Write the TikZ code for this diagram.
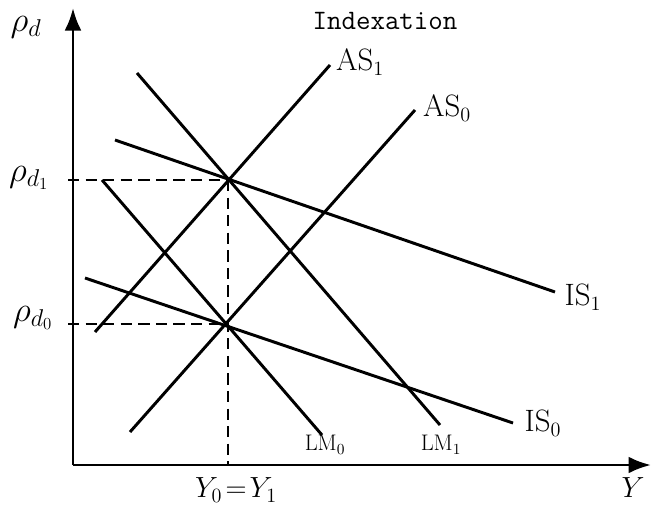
\documentclass[tikz,border=0pt]{standalone}
\usepackage{amssymb}
\usepackage{tikz}
\usetikzlibrary{arrows.meta}

\begin{document}
\begin{tikzpicture}[x=0.025cm,y=-0.025cm]
\tikzset{c/.style={line width=2.1pt},
  dsh/.style={line width=1.7pt,dash pattern=on 8pt off 4.5pt},
  lbl/.style={font=\fontsize{22}{26}\selectfont,inner sep=0pt}}
\useasboundingbox (0,0) rectangle (652,507);

% axes
\path (73,465) coordinate (o);
\path (73,8) coordinate (ytop);
\path (651,465) coordinate (xend);
\draw[c,-{Latex[length=16pt,width=12pt]}] (o) -- (ytop);
\draw[c,-{Latex[length=16pt,width=12pt]}] (o) -- (xend);

% equilibria
\path (228,180) coordinate (e1);
\path (227,324) coordinate (e0);
\path (68,180) coordinate (p1);
\path (68,324) coordinate (p0);
\path (228,465) coordinate (y1);

\draw[dsh] (p1) -- (e1);
\draw[dsh] (p0) -- (e0);
\draw[dsh] (e1) -- (y1);

% curves
\path (95,332) coordinate (as1a);
\path (330,65) coordinate (as1b);
\path (130,432) coordinate (as0a);
\path (415,110) coordinate (as0b);
\path (102,180) coordinate (lm0a);
\path (322,435) coordinate (lm0b);
\path (137,73) coordinate (lm1a);
\path (440,425) coordinate (lm1b);
\path (115,140) coordinate (is1a);
\path (555,292) coordinate (is1b);
\path (85,278) coordinate (is0a);
\path (513,423) coordinate (is0b);

\draw[c] (as1a) -- (as1b);
\draw[c] (as0a) -- (as0b);
\draw[c] (lm0a) -- (lm0b);
\draw[c] (lm1a) -- (lm1b);
\draw[c] (is1a) -- (is1b);
\draw[c] (is0a) -- (is0b);

% labels
\node[lbl,font=\fontsize{20}{24}\selectfont] (tl) at (385,21) {\ttfamily Indexation};
\node[lbl,font=\fontsize{26}{30}\selectfont] (rd) at (26,27) {$\rho_d$};
\node[lbl,font=\fontsize{26}{30}\selectfont] (rd1) at (29,178) {$\rho_{d_1}$};
\node[lbl,font=\fontsize{26}{30}\selectfont] (rd0) at (33,318) {$\rho_{d_0}$};
\node[lbl] (las1) at (360,62) {AS$_1$};
\node[lbl] (las0) at (447,108) {AS$_0$};
\node[lbl] (lis1) at (583,297) {IS$_1$};
\node[lbl] (lis0) at (543,423) {IS$_0$};
\node[lbl,font=\fontsize{16}{19}\selectfont] (llm0) at (325,445) {LM$_0$};
\node[lbl,font=\fontsize{16}{19}\selectfont] (llm1) at (441,445) {LM$_1$};
\node[lbl] (ly0) at (236,490) {$Y_0\!=\!Y_1$};
\node[lbl] (ly) at (633,488) {$Y$};
\end{tikzpicture}
\end{document}
